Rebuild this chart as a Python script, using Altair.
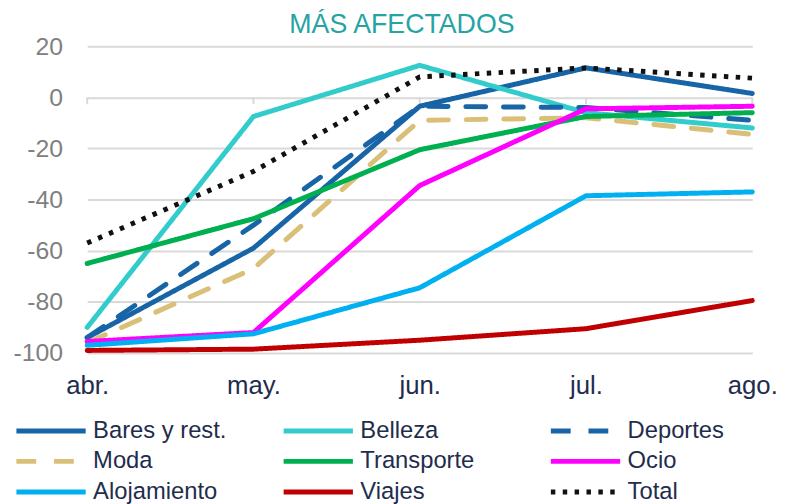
import altair as alt
import pandas as pd

months = ["abr.", "may.", "jun.", "jul.", "ago."]
series_names = ["Bares y rest.", "Belleza", "Deportes", "Moda", "Transporte",
                "Ocio", "Alojamiento", "Viajes", "Total"]
bares = [-94, -59, -3.5, 11.5, 1.5]
belleza = [-90, -7.5, 12.5, -6, -12]
deportes = [-94, -50, -3.5, -4, -9]
moda = [-96, -67, -9, -8, -14.5]
transporte = [-65, -47.5, -20.5, -7.5, -6]
ocio = [-95.5, -92, -34.5, -4.5, -3.5]
alojamiento = [-97, -92.5, -74.5, -38.5, -37]
viajes = [-99, -98.5, -95, -90.5, -79.5]
total = [-57, -29, 8, 11.5, 7.5]

colors = ["#1764A6", "#33CCCC", "#1764A6", "#D9BF77", "#00B050",
          "#FF00FF", "#00B0F0", "#C00000", "#111111"]
dashes = [[1, 0], [1, 0], [20, 18], [20, 18], [1, 0],
          [1, 0], [1, 0], [1, 0], [4.5, 7.5]]

values = [bares, belleza, deportes, moda, transporte, ocio, alojamiento, viajes, total]
rows = []
for si, (name, vals) in enumerate(zip(series_names, values)):
    for mi, (m, v) in enumerate(zip(months, vals)):
        rows.append({"serie": name, "mes": m, "valor": v, "si": si, "mi": mi})
df = pd.DataFrame(rows)
ticks_df = pd.DataFrame({"mes": months})

W, H = 672, 310

x_scale = alt.Scale(type="point", padding=0)
x_enc = alt.X("mes:N", sort=months, title=None, scale=x_scale,
              axis=alt.Axis(labelAngle=0, labelAlign="center", domain=False, ticks=False,
                            grid=False, labelFontSize=26, labelColor="#1F2D4D",
                            labelPadding=33, labelFont="Liberation Sans"))
y_scale = alt.Scale(domain=[-100, 20], nice=False)

y_enc = alt.Y("valor:Q", scale=y_scale, title=None,
              axis=alt.Axis(values=[-100, -80, -60, -40, -20, 0, 20], domain=False, ticks=False,
                            grid=True, gridColor="#D9D9D9", gridWidth=2,
                            labelFontSize=25, labelColor="#808080", labelPadding=25,
                            labelFont="Liberation Sans",
                            labelExpr="datum.value < 0 ? '-' + abs(datum.value) : '' + datum.value"))
color_enc = alt.Color("serie:N", sort=series_names, title=None,
                      scale=alt.Scale(domain=series_names, range=colors),
                      legend=alt.Legend(orient="none", legendX=-53, legendY=372, columns=3,
                                        direction="horizontal",
                                        symbolType="M-2.5,0H2.5", symbolSize=784,
                                        symbolStrokeWidth=5, labelFontSize=24,
                                        labelColor="#1F2D4D", labelFont="Liberation Sans",
                                        labelOffset=26, columnPadding=47, rowPadding=2,
                                        gridAlign="all", padding=0, labelLimit=300))
dash_enc = alt.StrokeDash("serie:N", sort=series_names, title=None,
                          scale=alt.Scale(domain=series_names, range=dashes))

base = alt.Chart(df).encode(x=x_enc, y=y_enc, color=color_enc, strokeDash=dash_enc, order="mi:O")

lines = base.mark_line(strokeWidth=5, strokeCap="round", strokeJoin="round").transform_filter(
    alt.datum.serie != "Total")
total_line = base.mark_line(strokeWidth=5, strokeCap="butt", strokeJoin="round").transform_filter(
    alt.datum.serie == "Total")

tick_marks = alt.Chart(ticks_df).mark_rule(color="#D9D9D9", strokeWidth=2).encode(
    x=alt.X("mes:N", sort=months, scale=x_scale),
    y=alt.datum(0),
    y2=alt.datum(-2.7),
)

chart = alt.layer(tick_marks, lines, total_line).properties(
    width=W, height=H,
    title=alt.TitleParams("MÁS AFECTADOS", fontSize=27, color="#26A3A3", fontWeight="normal",
                          font="Liberation Sans", anchor="middle", dx=-18, offset=-5),
    autosize=alt.AutoSizeParams(type="none"),
    padding={"left": 80, "top": 36, "right": 27, "bottom": 150},
).configure_view(stroke=None)

chart.save("out.html", embed_options={"renderer": "svg", "actions": False})
